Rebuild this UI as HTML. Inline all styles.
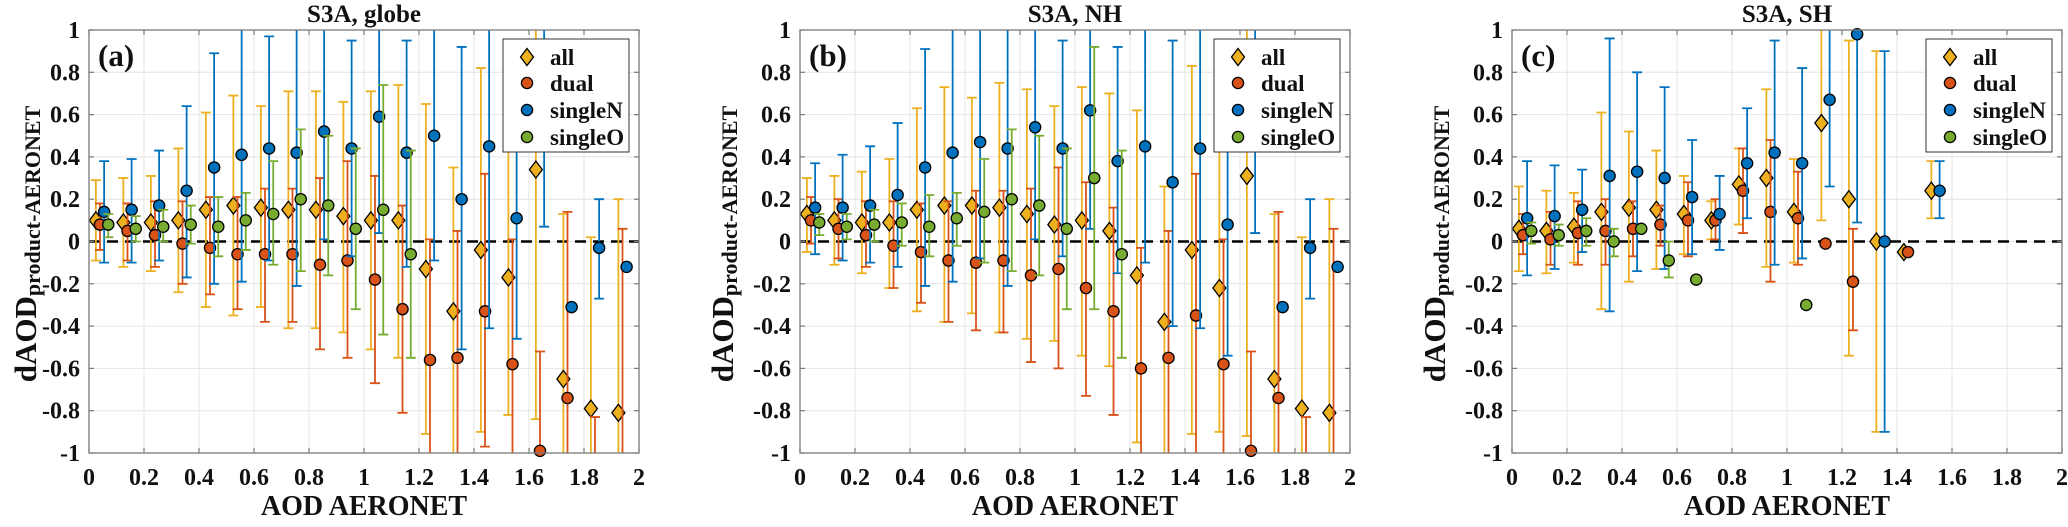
<!DOCTYPE html>
<html><head><meta charset="utf-8"><style>
html,body{margin:0;padding:0;background:#fff;}
svg text{font-family:"Liberation Serif","Times New Roman",serif !important;font-weight:bold;fill:#111;}
</style></head><body>
<svg id="fig" width="2068" height="522" viewBox="0 0 2068 522" xmlns="http://www.w3.org/2000/svg" font-family="Liberation Serif, serif" font-weight="bold"></svg>
<script>
// ---- data: panel a (globe) ----
const aAllV=[0.10,0.09,0.09,0.10,0.15,0.17,0.16,0.15,0.15,0.12,0.10,0.10,-0.13,-0.33,-0.04,-0.17,0.34,-0.65,-0.79,-0.81];
const aAllHi=[0.29,0.30,0.31,0.44,0.61,0.69,0.64,0.71,0.71,0.66,0.71,0.74,0.65,0.35,0.82,0.45,1.2,0.13,0.02,0.20];
const aAllLo=[-0.09,-0.12,-0.14,-0.24,-0.31,-0.35,-0.31,-0.41,-0.41,-0.43,-0.51,-0.55,-0.91,-1.2,-0.90,-0.82,-0.84,-1.2,-1.2,-1.2];
const aDualV=[0.08,0.05,0.03,-0.01,-0.03,-0.06,-0.06,-0.06,-0.11,-0.09,-0.18,-0.32,-0.56,-0.55,-0.33,-0.58,-0.99,-0.74,-1.1,-1.1];
const aDualHi=[0.18,0.18,0.19,0.19,0.21,0.21,0.25,0.25,0.30,0.38,0.31,0.17,0.01,0.05,0.32,0.01,-0.52,0.14,-0.83,0.06];
const aDualLo=[-0.04,-0.09,-0.12,-0.20,-0.25,-0.32,-0.38,-0.38,-0.51,-0.55,-0.67,-0.81,-1.2,-1.2,-0.97,-1.2,-1.2,-1.2,-1.2,-1.2];
const aNV=[0.14,0.15,0.17,0.24,0.35,0.41,0.44,0.42,0.52,0.44,0.59,0.42,0.50,0.20,0.45,0.11,1.1,-0.31,-0.03,-0.12];
const aNHi=[0.38,0.39,0.43,0.64,0.89,1.2,0.97,1.2,1.2,0.95,1.2,0.95,1.2,0.92,1.2,0.68,1.2,null,0.20,null];
const aNLo=[-0.10,-0.10,-0.09,-0.17,-0.20,-0.19,-0.09,-0.21,0.01,-0.07,0.04,-0.12,-0.09,-0.51,-0.41,-0.46,0.07,null,-0.27,null];
const aOV=[0.08,0.06,0.07,0.08,0.07,0.10,0.13,0.20,0.17,0.06,0.15,-0.06];
const aOHi=[0.13,0.12,0.15,0.17,0.21,0.23,0.38,0.53,0.50,0.44,0.74,0.43];
const aOLo=[0.02,0.00,0.00,-0.01,-0.07,-0.04,-0.11,-0.14,-0.16,-0.32,-0.44,-0.55];
// ---- data: panel b (NH) ----
const bAllV=[0.13,0.10,0.09,0.09,0.15,0.17,0.17,0.16,0.13,0.08,0.10,0.05,-0.16,-0.38,-0.04,-0.22,0.31,-0.65,-0.79,-0.81];
const bAllHi=[0.30,0.31,0.33,0.39,0.63,0.73,0.68,0.75,0.72,0.64,0.73,0.70,0.62,0.26,0.83,0.45,1.2,0.13,0.02,0.20];
const bAllLo=[-0.05,-0.11,-0.15,-0.22,-0.33,-0.38,-0.34,-0.43,-0.46,-0.47,-0.54,-0.59,-0.95,-1.2,-0.91,-0.90,-0.92,-1.2,-1.2,-1.2];
const bDualV=[0.10,0.06,0.03,-0.02,-0.05,-0.09,-0.10,-0.09,-0.16,-0.13,-0.22,-0.33,-0.60,-0.55,-0.35,-0.58,-0.99,-0.74,-1.1,-1.1];
const bDualHi=[0.21,0.20,0.19,0.19,0.18,0.19,0.24,0.24,0.25,0.35,0.28,0.16,-0.03,0.05,0.32,0.01,-0.52,0.14,-0.83,0.06];
const bDualLo=[-0.01,-0.08,-0.12,-0.22,-0.29,-0.38,-0.42,-0.43,-0.57,-0.60,-0.73,-0.82,-1.2,-1.2,-1.2,-1.2,-1.2,-1.2,-1.2,-1.2];
const bNV=[0.16,0.16,0.17,0.22,0.35,0.42,0.47,0.44,0.54,0.44,0.62,0.38,0.45,0.28,0.44,0.08,1.1,-0.31,-0.03,-0.12];
const bNHi=[0.37,0.41,0.45,0.56,0.91,1.2,1.2,1.2,1.2,0.95,1.2,0.92,1.2,0.95,1.2,0.45,1.2,null,0.20,null];
const bNLo=[-0.06,-0.09,-0.10,-0.12,-0.21,-0.19,-0.08,-0.21,0.01,-0.07,0.06,-0.15,-0.10,-0.40,-0.41,-0.54,0.04,null,-0.27,null];
const bOV=[0.09,0.07,0.08,0.09,0.07,0.11,0.14,0.20,0.17,0.06,0.30,-0.06];
const bOHi=[0.13,0.13,0.15,0.18,0.22,0.23,0.39,0.53,0.50,0.44,0.92,0.43];
const bOLo=[0.03,0.01,0.00,-0.02,-0.07,-0.02,-0.10,-0.14,-0.16,-0.32,-0.32,-0.55];
// ---- data: panel c (SH) ----
const cAllV=[0.06,0.05,0.07,0.14,0.16,0.15,0.13,0.10,0.27,0.30,0.14,0.56,0.20,0.00,-0.05,0.24];
const cAllHi=[0.26,0.24,0.23,0.61,0.52,0.43,0.31,0.19,0.44,0.72,0.39,1.2,0.95,0.90,null,0.38];
const cAllLo=[-0.14,-0.15,-0.10,-0.32,-0.19,-0.13,-0.06,0.01,0.08,-0.12,-0.10,0.10,-0.54,-0.90,null,0.11];
const cDualV=[0.03,0.01,0.04,0.05,0.06,0.08,0.10,0.10,0.24,0.14,0.11,-0.01,-0.19,null,-0.05,null];
const cDualHi=[0.13,0.14,0.19,0.20,0.19,0.17,0.28,0.20,0.44,0.48,0.33,null,0.06,null,null,null];
const cDualLo=[-0.06,-0.11,-0.11,-0.11,-0.07,-0.02,-0.07,0.01,0.04,-0.19,-0.11,null,-0.42,null,null,null];
const cNV=[0.11,0.12,0.15,0.31,0.33,0.30,0.21,0.13,0.37,0.42,0.37,0.67,0.98,0.00,null,0.24];
const cNHi=[0.38,0.36,0.34,0.96,0.80,0.73,0.48,0.31,0.63,0.95,0.82,1.2,1.2,0.90,null,0.38];
const cNLo=[-0.16,-0.13,-0.05,-0.33,-0.14,-0.13,-0.06,-0.04,0.11,-0.11,-0.08,0.26,0.09,-0.90,null,0.11];
const cOV=[0.05,0.03,0.05,0.00,0.06,-0.09,-0.18,null,null,null,-0.30];
const cOHi=[0.09,0.08,0.11,0.06,null,0.00,null,null,null,null,null];
const cOLo=[-0.01,-0.02,-0.02,-0.07,null,-0.17,null,null,null,null,null];

const xTicks=[0,0.2,0.4,0.6,0.8,1,1.2,1.4,1.6,1.8,2];
const xTickLabels=["0","0.2","0.4","0.6","0.8","1","1.2","1.4","1.6","1.8","2"];
const yTicks=[-1,-0.8,-0.6,-0.4,-0.2,0,0.2,0.4,0.6,0.8,1];
const yTickLabels=["-1","-0.8","-0.6","-0.4","-0.2","0","0.2","0.4","0.6","0.8","1"];
const binCenters=[0.05,0.15,0.25,0.35,0.45,0.55,0.65,0.75,0.85,0.95,1.05,1.15,1.25,1.35,1.45,1.55,1.65,1.75,1.85,1.95];
const seriesNames=["all","dual","singleN","singleO"];

const NS="http://www.w3.org/2000/svg";
const svg=document.getElementById('fig');
const FONT="Liberation Serif, Times New Roman, serif";
function mk(tag,attrs,parent){const e=document.createElementNS(NS,tag);for(const k in attrs)e.setAttribute(k,attrs[k]);(parent||svg).appendChild(e);return e;}
function txt(parent,attrs,s){const e=mk('text',Object.assign({"font-family":FONT,"font-weight":"bold",fill:"#111"},attrs),parent);e.textContent=s;return e;}

const COLORS={all:"#EDB120",dual:"#D95319",singleN:"#0072BD",singleO:"#77AC30"};
const OFFS={all:-0.025,dual:-0.01,singleN:0.005,singleO:0.02};

const panels=[
 {id:"a",L:89,title:"S3A, globe",ylabX:36,
  s:{all:[aAllV,aAllLo,aAllHi],dual:[aDualV,aDualLo,aDualHi],singleN:[aNV,aNLo,aNHi],singleO:[aOV,aOLo,aOHi]}},
 {id:"b",L:800,title:"S3A, NH",ylabX:733,
  s:{all:[bAllV,bAllLo,bAllHi],dual:[bDualV,bDualLo,bDualHi],singleN:[bNV,bNLo,bNHi],singleO:[bOV,bOLo,bOHi]}},
 {id:"c",L:1512,title:"S3A, SH",ylabX:1445,
  s:{all:[cAllV,cAllLo,cAllHi],dual:[cDualV,cDualLo,cDualHi],singleN:[cNV,cNLo,cNHi],singleO:[cOV,cOLo,cOHi]}}
];
const T=30,H=423,W=550;

function marker(g,type,cx,cy){
  if(type==="all"){
    return mk('path',{d:`M${cx} ${cy-8.5}L${cx+6.5} ${cy}L${cx} ${cy+8.5}L${cx-6.5} ${cy}Z`,fill:COLORS.all,stroke:"#000","stroke-width":1.3},g);
  }
  return mk('circle',{cx:cx,cy:cy,r:5.6,fill:COLORS[type],stroke:"#000","stroke-width":1.3},g);
}

panels.forEach(p=>{
  const L=p.L;
  const xs=v=>L+v/2*W;
  const ys=v=>T+(1-v)/2*H;
  const g=mk('g',{});
  
  
  const cp=mk('clipPath',{id:'clip'+p.id},g);
  mk('rect',{x:L,y:T,width:W,height:H},cp);
  mk('rect',{x:L,y:T,width:W,height:H,fill:"#fff"},g);
  const grid=mk('g',{stroke:"#e4e4e4","stroke-width":1},g);
  
  
  xTicks.forEach(t=>mk('line',{x1:xs(t),x2:xs(t),y1:T,y2:T+H},grid));
  yTicks.forEach(t=>mk('line',{x1:L,x2:L+W,y1:ys(t),y2:ys(t)},grid));
  const z=mk('line',{x1:L,x2:L+W,y1:ys(0),y2:ys(0),stroke:"#000","stroke-width":2.6,"stroke-dasharray":"11,7"},g);
  
  
  seriesNames.forEach(name=>{
    const [V,Lo,Hi]=p.s[name];
    const sg=mk('g',{},g);
    
    
    const eg=mk('g',{stroke:COLORS[name],"stroke-width":1.8,"clip-path":`url(#clip${p.id})`,fill:"none"},sg);
    V.forEach((v,i)=>{
      if(v===null||v===undefined)return;
      const x=xs(binCenters[i]+OFFS[name]);
      const lo=Lo[i],hi=Hi[i];
      if(lo!==null&&lo!==undefined&&hi!==null&&hi!==undefined){
        const eb=mk('path',{d:`M${x} ${ys(hi)}L${x} ${ys(lo)}M${x-5} ${ys(hi)}L${x+5} ${ys(hi)}M${x-5} ${ys(lo)}L${x+5} ${ys(lo)}`},eg);
        
        
      }
    });
    V.forEach((v,i)=>{
      if(v===null||v===undefined||v>1||v<-1)return;
      const m=marker(sg,name,xs(binCenters[i]+OFFS[name]),ys(v));
      
      
    });
  });
  const box=mk('rect',{x:L,y:T,width:W,height:H,fill:"none",stroke:"#7a7a7a","stroke-width":1.3},g);
  
  
  const tk=mk('g',{stroke:"#7a7a7a","stroke-width":1.2},g);
  xTicks.forEach(t=>{mk('line',{x1:xs(t),x2:xs(t),y1:T+H,y2:T+H-5},tk);mk('line',{x1:xs(t),x2:xs(t),y1:T,y2:T+5},tk);});
  yTicks.forEach(t=>{mk('line',{x1:L,x2:L+5,y1:ys(t),y2:ys(t)},tk);mk('line',{x1:L+W,x2:L+W-5,y1:ys(t),y2:ys(t)},tk);});
  xTicks.forEach((t,i)=>{const e=txt(g,{x:xs(t),y:485,"text-anchor":"middle","font-size":24},xTickLabels[i]);
    });
  yTicks.forEach((t,i)=>{const e=txt(g,{x:L-9,y:ys(t)+8,"text-anchor":"end","font-size":24},yTickLabels[i]);
    });
  const ti=txt(g,{x:L+W/2,y:22,"text-anchor":"middle","font-size":25},p.title);
  
  const xl=txt(g,{x:L+W/2,y:515,"text-anchor":"middle","font-size":28},"AOD AERONET");
  
  const yl=txt(g,{transform:`translate(${p.ylabX},244) rotate(-90)`,"text-anchor":"middle","font-size":31},"");
  
  const t1=mk('tspan',{},yl);t1.textContent="dAOD";
  const t2=mk('tspan',{"font-size":22,dy:4},yl);t2.textContent="product-AERONET";
  const pl=txt(g,{x:L+9,y:66,"font-size":31},"("+p.id+")");
  
  const LW=126,LH=113,LX=L+W-10-LW,LY=39;
  const lg=mk('g',{},g);
  
  mk('rect',{x:LX,y:LY,width:LW,height:LH,fill:"#fff",stroke:"#333","stroke-width":1},lg);
  const rows=[18,44,71,98];
  seriesNames.forEach((n,i)=>{
    const eg=mk('g',{},lg);
    
    marker(eg,n,LX+24,LY+rows[i]);
    txt(eg,{x:LX+47,y:LY+rows[i]+8,"font-size":23},n);
  });
});
</script>
</body></html>
